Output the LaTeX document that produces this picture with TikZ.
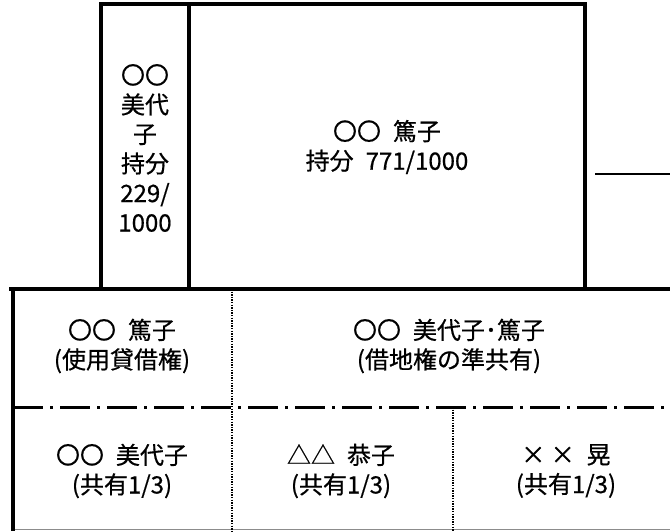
\documentclass[tikz,border=0pt]{standalone}
\usepackage{fontspec}
\setmainfont{Noto Sans CJK JP}[BoldFont=Noto Sans CJK JP,BoldFeatures={FakeBold=0.6}]
\newcommand{\gapsp}{\hspace{0.5em}}
\begin{document}
\begin{tikzpicture}[x=1pt,y=-1pt,
  wall/.style={line width=3.5pt,line cap=rect},
  thinwall/.style={line width=2.5pt},
  edgeline/.style={line width=1pt,draw=black!45},
  dotline/.style={line width=2pt,dash pattern=on 1.3pt off 1.3pt},
  dashdot/.style={line width=3pt,dash pattern=on 30pt off 7pt on 3pt off 7pt},
  lbl/.style={align=center,inner sep=0pt,font=\fontsize{24}{29.5}\selectfont\bfseries}]
\useasboundingbox (0,0) rectangle (670,531);
% named corners
\coordinate (tl) at (101,4);
\coordinate (tr) at (585,4);
\coordinate (dv) at (189,4);
\coordinate (dvb) at (189,289);
\coordinate (bl) at (101,289);
\coordinate (br) at (585,289);
\coordinate (hl) at (11,289);
\coordinate (hr) at (672,289);
\coordinate (lb) at (13,529);
\coordinate (rb) at (672,529);
\coordinate (sl) at (595,174);
\coordinate (sr) at (672,174);
\coordinate (ddl) at (13,407);
\coordinate (ddr) at (672,407);
\coordinate (v1t) at (232,289);
\coordinate (v1b) at (232,531);
\coordinate (v2t) at (453,407);
\coordinate (v2b) at (453,531);
% bottom parcel
\draw[edgeline] (lb) -- (rb);
\draw[dotline] (v1t) -- (v1b);
\draw[dotline] (v2t) -- (v2b);
\draw[dashdot] (ddl) -- (ddr);
\draw[wall] (hl) -- (hr);
\draw[wall] (hl -| lb) -- (lb);
% building
\draw[wall] (bl) -- (tl) -- (tr) -- (br);
\draw[wall] (dv) -- (dvb);
\draw[thinwall] (sl) -- (sr);
% labels
\node[lbl] (col) at (145,148) {〇〇\\美代\\子\\持分\\229/\\1000};
\node[lbl] (main) at (387,147) {〇〇\gapsp 篤子\\持分\gapsp 771/1000};
\node[lbl] (a) at (122,346) {〇〇\gapsp 篤子\\(使用貸借権)};
\node[lbl] (b) at (449,346) {〇〇\gapsp 美代子･篤子\\(借地権の準共有)};
\node[lbl] (c) at (122,471) {〇〇\gapsp 美代子\\(共有1/3)};
\node[lbl] (d) at (341,471) {△△\gapsp 恭子\\(共有1/3)};
\node[lbl] (e) at (566,471) {× ×\gapsp 晃\\(共有1/3)};
\end{tikzpicture}
\end{document}
